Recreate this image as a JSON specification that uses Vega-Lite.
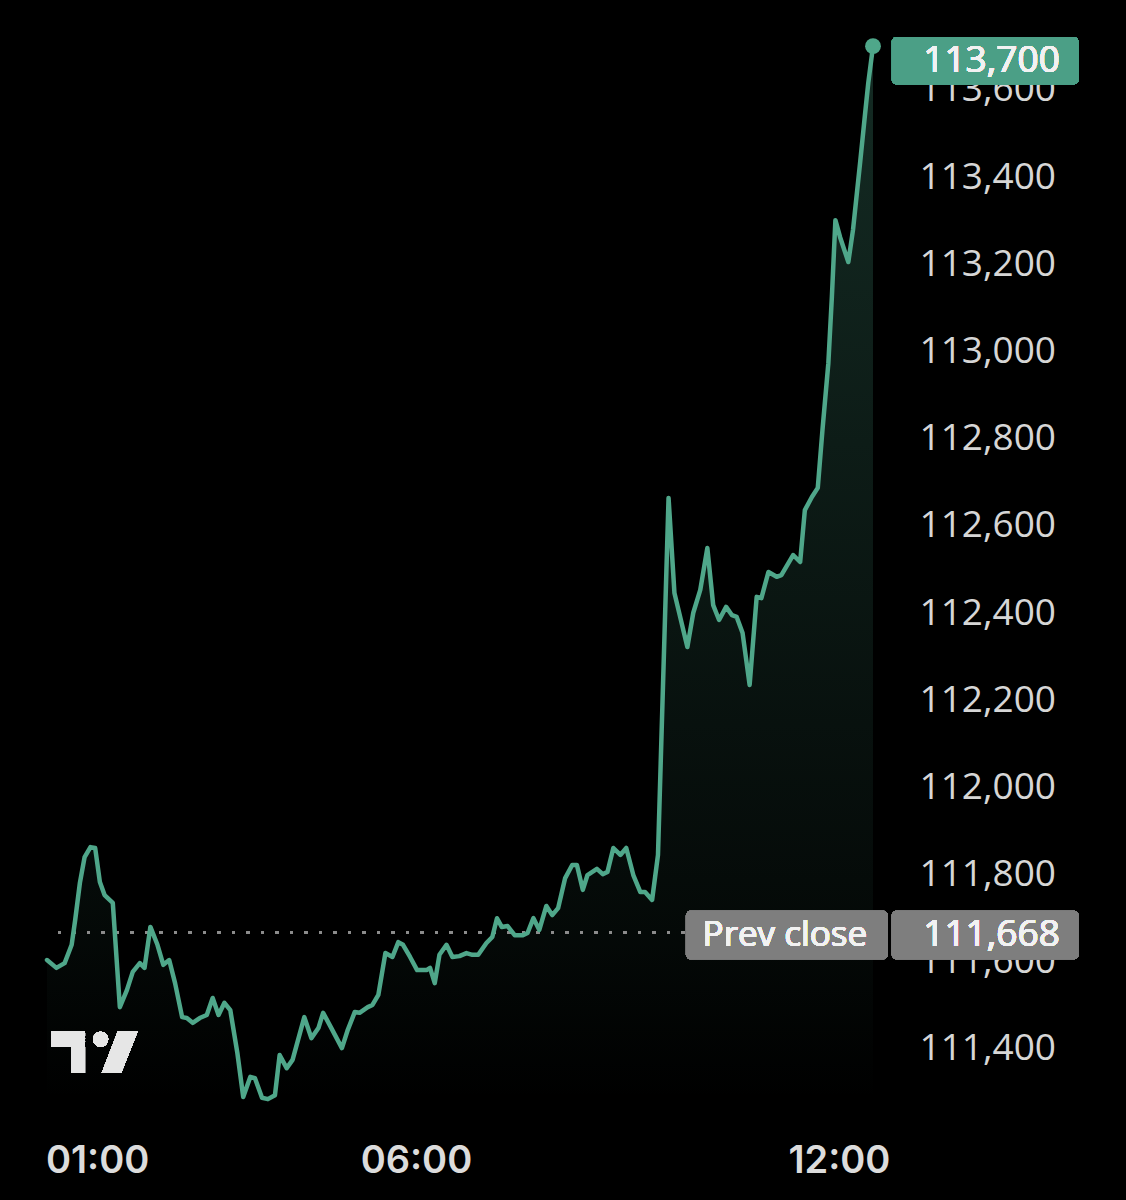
{
  "$schema": "https://vega.github.io/schema/vega-lite/v6.json",
  "autosize": "none",
  "width": 826,
  "height": 1100,
  "padding": {"left": 47, "top": 0, "right": 253, "bottom": 100},
  "background": "#000000",
  "config": {"view": {"stroke": null}, "font": "Open Sans"},
  "data": {"values": [
    {"t":"2025-09-09T00:46:00Z","p":111604},{"t":"2025-09-09T00:54:00Z","p":111586},{"t":"2025-09-09T01:01:00Z","p":111597},{"t":"2025-09-09T01:07:00Z","p":111639},
    {"t":"2025-09-09T01:10:00Z","p":111696},{"t":"2025-09-09T01:14:00Z","p":111781},{"t":"2025-09-09T01:18:00Z","p":111840},{"t":"2025-09-09T01:23:00Z","p":111863},
    {"t":"2025-09-09T01:27:00Z","p":111861},{"t":"2025-09-09T01:31:00Z","p":111783},{"t":"2025-09-09T01:35:00Z","p":111753},{"t":"2025-09-09T01:42:00Z","p":111735},
    {"t":"2025-09-09T01:48:00Z","p":111496},{"t":"2025-09-09T01:54:00Z","p":111535},{"t":"2025-09-09T01:59:00Z","p":111577},{"t":"2025-09-09T02:05:00Z","p":111597},
    {"t":"2025-09-09T02:09:00Z","p":111586},{"t":"2025-09-09T02:14:00Z","p":111680},{"t":"2025-09-09T02:20:00Z","p":111639},{"t":"2025-09-09T02:25:00Z","p":111593},
    {"t":"2025-09-09T02:30:00Z","p":111604},{"t":"2025-09-09T02:35:00Z","p":111551},{"t":"2025-09-09T02:41:00Z","p":111473},{"t":"2025-09-09T02:45:00Z","p":111471},
    {"t":"2025-09-09T02:50:00Z","p":111460},{"t":"2025-09-09T02:56:00Z","p":111471},{"t":"2025-09-09T03:02:00Z","p":111478},{"t":"2025-09-09T03:07:00Z","p":111517},
    {"t":"2025-09-09T03:12:00Z","p":111478},{"t":"2025-09-09T03:17:00Z","p":111506},{"t":"2025-09-09T03:22:00Z","p":111489},{"t":"2025-09-09T03:28:00Z","p":111391},
    {"t":"2025-09-09T03:33:00Z","p":111290},{"t":"2025-09-09T03:39:00Z","p":111336},{"t":"2025-09-09T03:43:00Z","p":111333},{"t":"2025-09-09T03:49:00Z","p":111288},
    {"t":"2025-09-09T03:54:00Z","p":111285},{"t":"2025-09-09T04:00:00Z","p":111294},{"t":"2025-09-09T04:04:00Z","p":111386},{"t":"2025-09-09T04:10:00Z","p":111356},
    {"t":"2025-09-09T04:15:00Z","p":111375},{"t":"2025-09-09T04:25:00Z","p":111473},{"t":"2025-09-09T04:31:00Z","p":111425},{"t":"2025-09-09T04:37:00Z","p":111448},
    {"t":"2025-09-09T04:41:00Z","p":111483},{"t":"2025-09-09T04:48:00Z","p":111448},{"t":"2025-09-09T04:57:00Z","p":111402},{"t":"2025-09-09T05:02:00Z","p":111444},
    {"t":"2025-09-09T05:08:00Z","p":111485},{"t":"2025-09-09T05:12:00Z","p":111483},{"t":"2025-09-09T05:19:00Z","p":111496},{"t":"2025-09-09T05:23:00Z","p":111501},
    {"t":"2025-09-09T05:28:00Z","p":111524},{"t":"2025-09-09T05:34:00Z","p":111620},{"t":"2025-09-09T05:40:00Z","p":111611},{"t":"2025-09-09T05:45:00Z","p":111645},
    {"t":"2025-09-09T05:49:00Z","p":111639},{"t":"2025-09-09T05:55:00Z","p":111611},{"t":"2025-09-09T06:01:00Z","p":111581},{"t":"2025-09-09T06:09:00Z","p":111581},
    {"t":"2025-09-09T06:12:00Z","p":111586},{"t":"2025-09-09T06:16:00Z","p":111551},{"t":"2025-09-09T06:20:00Z","p":111616},{"t":"2025-09-09T06:26:00Z","p":111639},
    {"t":"2025-09-09T06:31:00Z","p":111611},{"t":"2025-09-09T06:37:00Z","p":111613},{"t":"2025-09-09T06:43:00Z","p":111620},{"t":"2025-09-09T06:48:00Z","p":111616},
    {"t":"2025-09-09T06:53:00Z","p":111616},{"t":"2025-09-09T07:00:00Z","p":111643},{"t":"2025-09-09T07:05:00Z","p":111657},{"t":"2025-09-09T07:09:00Z","p":111700},
    {"t":"2025-09-09T07:13:00Z","p":111680},{"t":"2025-09-09T07:18:00Z","p":111682},{"t":"2025-09-09T07:24:00Z","p":111661},{"t":"2025-09-09T07:31:00Z","p":111661},
    {"t":"2025-09-09T07:35:00Z","p":111666},{"t":"2025-09-09T07:40:00Z","p":111700},{"t":"2025-09-09T07:45:00Z","p":111673},{"t":"2025-09-09T07:51:00Z","p":111728},
    {"t":"2025-09-09T07:56:00Z","p":111707},{"t":"2025-09-09T08:01:00Z","p":111723},{"t":"2025-09-09T08:07:00Z","p":111792},{"t":"2025-09-09T08:13:00Z","p":111822},
    {"t":"2025-09-09T08:17:00Z","p":111822},{"t":"2025-09-09T08:22:00Z","p":111765},{"t":"2025-09-09T08:26:00Z","p":111799},{"t":"2025-09-09T08:34:00Z","p":111813},
    {"t":"2025-09-09T08:39:00Z","p":111801},{"t":"2025-09-09T08:43:00Z","p":111806},{"t":"2025-09-09T08:48:00Z","p":111861},{"t":"2025-09-09T08:54:00Z","p":111845},
    {"t":"2025-09-09T08:59:00Z","p":111861},{"t":"2025-09-09T09:05:00Z","p":111799},{"t":"2025-09-09T09:11:00Z","p":111760},{"t":"2025-09-09T09:15:00Z","p":111760},
    {"t":"2025-09-09T09:21:00Z","p":111742},{"t":"2025-09-09T09:26:00Z","p":111845},{"t":"2025-09-09T09:35:00Z","p":112664},{"t":"2025-09-09T09:40:00Z","p":112446},
    {"t":"2025-09-09T09:51:00Z","p":112322},{"t":"2025-09-09T09:56:00Z","p":112400},{"t":"2025-09-09T10:02:00Z","p":112453},{"t":"2025-09-09T10:08:00Z","p":112549},
    {"t":"2025-09-09T10:13:00Z","p":112418},{"t":"2025-09-09T10:18:00Z","p":112384},{"t":"2025-09-09T10:24:00Z","p":112414},{"t":"2025-09-09T10:29:00Z","p":112395},
    {"t":"2025-09-09T10:33:00Z","p":112391},{"t":"2025-09-09T10:38:00Z","p":112354},{"t":"2025-09-09T10:44:00Z","p":112235},{"t":"2025-09-09T10:50:00Z","p":112437},
    {"t":"2025-09-09T10:54:00Z","p":112434},{"t":"2025-09-09T11:00:00Z","p":112494},{"t":"2025-09-09T11:07:00Z","p":112483},{"t":"2025-09-09T11:11:00Z","p":112487},
    {"t":"2025-09-09T11:21:00Z","p":112533},{"t":"2025-09-09T11:27:00Z","p":112517},{"t":"2025-09-09T11:31:00Z","p":112636},{"t":"2025-09-09T11:37:00Z","p":112666},
    {"t":"2025-09-09T11:42:00Z","p":112687},{"t":"2025-09-09T11:46:00Z","p":112820},{"t":"2025-09-09T11:51:00Z","p":112973},{"t":"2025-09-09T11:54:00Z","p":113125},
    {"t":"2025-09-09T11:57:00Z","p":113301},{"t":"2025-09-09T12:01:00Z","p":113262},{"t":"2025-09-09T12:08:00Z","p":113205},{"t":"2025-09-09T12:12:00Z","p":113279},
    {"t":"2025-09-09T12:18:00Z","p":113432},{"t":"2025-09-09T12:22:00Z","p":113538},{"t":"2025-09-09T12:25:00Z","p":113616},{"t":"2025-09-09T12:29:00Z","p":113700}
  ]},
  "encoding": {
    "x": {"field": "t", "type": "temporal",
      "scale": {"type": "utc", "nice": false,
        "domain": [{"year":2025,"month":9,"date":9,"hours":0,"minutes":46,"utc":true},{"year":2025,"month":9,"date":9,"hours":12,"minutes":29,"utc":true}]},
      "axis": {"title": null, "grid": false, "domain": false, "ticks": false, "tickSize": 0,
        "values": [{"year":2025,"month":9,"date":9,"hours":1,"utc":true},{"year":2025,"month":9,"date":9,"hours":6,"utc":true},{"year":2025,"month":9,"date":9,"hours":12,"utc":true}],
        "labelExpr": "utcFormat(datum.value, '%H:%M')",
        "labelFont": "Inter", "labelFontSize": 38, "labelFontWeight": 600, "labelColor": "#dcdcdc",
        "labelPadding": 42, "labelFlush": 20, "labelFlushOffset": 18, "labelOverlap": false}},
    "y": {"field": "p", "type": "quantitative",
      "scale": {"domain": [111283, 113806], "nice": false, "zero": false},
      "axis": {"title": null, "orient": "right", "grid": false, "domain": false, "ticks": false, "tickSize": 0,
        "values": [111400, 111600, 111800, 112000, 112200, 112400, 112600, 112800, 113000, 113200, 113400, 113600],
        "format": ",d", "labelFont": "Open Sans", "labelFontSize": 37, "labelColor": "#d6d6d6", "labelPadding": 46, "labelOverlap": false}}
  },
  "layer": [
    {"mark": {"type": "area", "clip": false,
      "color": {"gradient": "linear", "x1": 0, "y1": 0, "x2": 0, "y2": 1,
        "stops": [{"offset": 0, "color": "rgba(78,168,138,0.26)"}, {"offset": 0.85, "color": "rgba(78,168,138,0.05)"}, {"offset": 1, "color": "rgba(78,168,138,0.0)"}]}},
      "encoding": {"y2": {"datum": 111283}}},
    {"mark": {"type": "rule", "color": "#8c8c8c", "strokeWidth": 2.5, "strokeDash": [3, 11.5]},
      "encoding": {"x": null, "y": {"datum": 111668}}},
    {"mark": {"type": "line", "color": "#4fa78a", "strokeWidth": 4.5, "strokeJoin": "round", "strokeCap": "round", "clip": false}},
    {"transform": [{"filter": "datum.p === 113700"}],
      "mark": {"type": "point", "filled": true, "opacity": 1, "color": "#4fa78a", "size": 250}},
    {"mark": {"type": "point", "filled": true, "opacity": 1, "color": "#e6e6e6", "size": 7396, "strokeWidth": 0,
        "shape": "M-1,-0.48 H-0.22 V0.48 H-0.53 V-0.13 H-1 Z M-0.03,-0.31 A0.174,0.174 0 1,0 0.318,-0.31 A0.174,0.174 0 1,0 -0.03,-0.31 Z M0.54,-0.48 L1,-0.48 L0.62,0.48 L0.17,0.48 Z"},
      "encoding": {"x": {"datum": {"year":2025,"month":9,"date":9,"hours":1,"minutes":26,"seconds":24,"utc":true}, "type": "temporal"},
        "y": {"datum": 111392}}},
    {"mark": {"type": "rect", "color": "#7e7e7e", "cornerRadius": 5, "clip": false},
      "encoding": {"x": {"datum": {"year":2025,"month":9,"date":9,"hours":9,"minutes":49,"seconds":48,"utc":true}, "type": "temporal"},
        "x2": {"datum": {"year":2025,"month":9,"date":9,"hours":12,"minutes":41,"seconds":42,"utc":true}},
        "y": {"datum": 111717}, "y2": {"datum": 111606}}},
    {"mark": {"type": "rect", "color": "#7e7e7e", "cornerRadius": 5, "clip": false},
      "encoding": {"x": {"datum": {"year":2025,"month":9,"date":9,"hours":12,"minutes":45,"utc":true}, "type": "temporal"},
        "x2": {"datum": {"year":2025,"month":9,"date":9,"hours":15,"minutes":24,"utc":true}},
        "y": {"datum": 111717}, "y2": {"datum": 111606}}},
    {"mark": {"type": "rect", "color": "#4b9f86", "cornerRadius": 5, "clip": false},
      "encoding": {"x": {"datum": {"year":2025,"month":9,"date":9,"hours":12,"minutes":45,"utc":true}, "type": "temporal"},
        "x2": {"datum": {"year":2025,"month":9,"date":9,"hours":15,"minutes":24,"utc":true}},
        "y": {"datum": 113721}, "y2": {"datum": 113613}}},
    {"mark": {"type": "text", "text": "113,700", "font": "Open Sans", "fontSize": 37, "color": "#f2f2f2", "align": "right", "baseline": "middle"},
      "encoding": {"x": {"datum": {"year":2025,"month":9,"date":9,"hours":15,"minutes":8,"utc":true}, "type": "temporal"},
        "y": {"datum": 113667}}},
    {"mark": {"type": "text", "text": "111,668", "font": "Open Sans", "fontSize": 37, "color": "#f2f2f2", "align": "right", "baseline": "middle"},
      "encoding": {"x": {"datum": {"year":2025,"month":9,"date":9,"hours":15,"minutes":8,"utc":true}, "type": "temporal"},
        "y": {"datum": 111661}}},
    {"mark": {"type": "text", "text": "Prev close", "font": "Open Sans", "fontSize": 35, "color": "#f2f2f2", "align": "center", "baseline": "middle"},
      "encoding": {"x": {"datum": {"year":2025,"month":9,"date":9,"hours":11,"minutes":14,"utc":true}, "type": "temporal"},
        "y": {"datum": 111661}}}
  ]
}
